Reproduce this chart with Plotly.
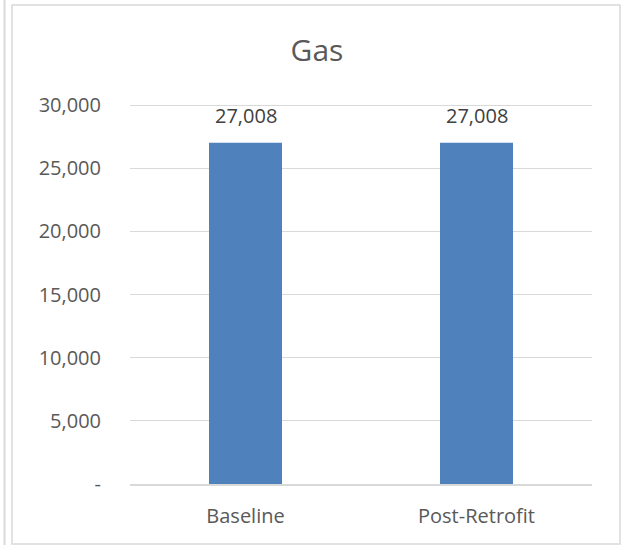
import plotly.graph_objects as go

categories = ["Baseline", "Post-Retrofit"]
gas_values = [27008, 27008]
tick_vals = [0, 5000, 10000, 15000, 20000, 25000, 30000]
tick_text = ["-", "5,000", "10,000", "15,000", "20,000", "25,000", "30,000"]
title_text = "Gas"

W, H = 621, 545
L, R, T, B = 130, 29, 104, 61
pw, ph = W - L - R, H - T - B

def px2x(px):
    return (px - L) / pw

def py2y(py):
    return (H - B - py) / ph

fig = go.Figure()
fig.add_trace(go.Bar(
    x=categories, y=gas_values,
    marker=dict(color="#4F81BD", line=dict(width=0)),
    hoverinfo="skip",
))

for c, v in zip(categories, gas_values):
    fig.add_annotation(x=c, y=v, text=f"{v:,}", showarrow=False,
                       yanchor="bottom", yshift=12,
                       font=dict(family="Open Sans", size=20, color="#404040"))

shapes = [
    dict(type="rect", xref="paper", yref="paper",
         x0=px2x(12), x1=px2x(620), y0=py2y(544), y1=py2y(5),
         line=dict(color="#d9d9d9", width=1.5), layer="below"),
    dict(type="line", xref="paper", yref="paper",
         x0=px2x(4.5), x1=px2x(4.5), y0=py2y(545), y1=py2y(0),
         line=dict(color="#d9d9d9", width=2), layer="below"),
]

fig.update_layout(
    width=W, height=H,
    margin=dict(l=L, r=R, t=T, b=B, autoexpand=False),
    paper_bgcolor="white", plot_bgcolor="white",
    bargap=0.684,
    showlegend=False,
    shapes=shapes,
    title=dict(text=title_text, x=317 / W, xanchor="center", xref="container",
               y=1 - 50 / H, yanchor="middle", yref="container",
               font=dict(family="Open Sans", size=30, color="#595959")),
    font=dict(family="Open Sans", size=20, color="#595959"),
)
fig.update_yaxes(range=[0, 30080], tickvals=tick_vals, ticktext=tick_text,
                 showgrid=True, gridcolor="#d9d9d9", gridwidth=1,
                 zeroline=False, showline=False, ticks="",
                 ticklabelstandoff=28,
                 tickfont=dict(family="Open Sans", size=20, color="#595959"))
fig.update_xaxes(showline=True, linecolor="#d9d9d9", linewidth=2, ticks="",
                 ticklabelstandoff=13,
                 tickfont=dict(family="Open Sans", size=20, color="#595959"))

fig.write_html("out.html", config={"displayModeBar": False, "staticPlot": True},
               post_script="document.body.style.margin='0px';document.body.style.overflow='hidden';")
